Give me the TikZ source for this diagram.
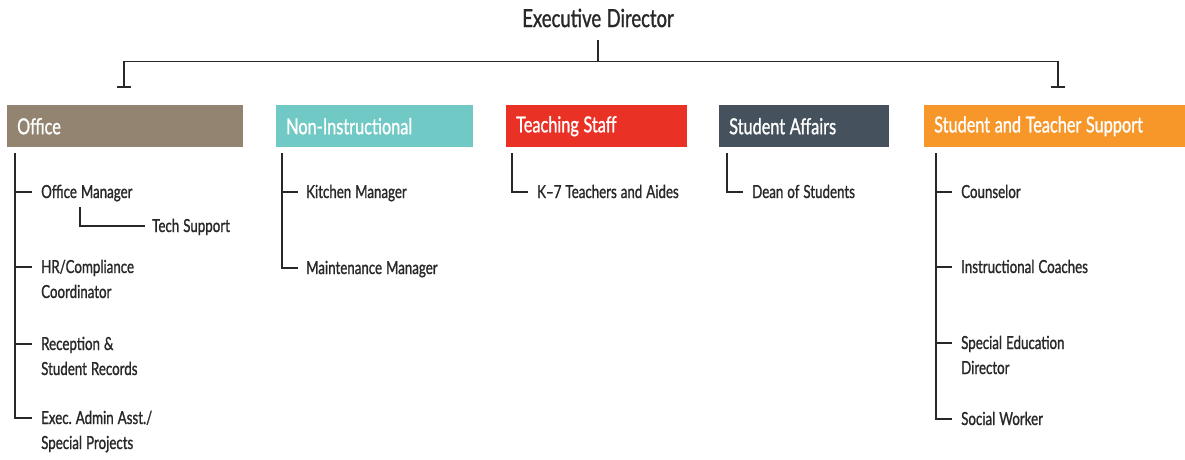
\documentclass[tikz,border=0pt]{standalone}
\usepackage{fontspec}
\usetikzlibrary{arrows.meta}
\newfontfamily\condfont[FakeStretch=0.74,FakeBold=1.1]{Lato}
\frenchspacing
\newcommand{\headfont}{\condfont\fontsize{22}{26}\selectfont}
\newcommand{\itemfont}{\condfont\fontsize{18}{25}\selectfont\spaceskip=4pt plus 1pt minus 1pt\relax}
\newcommand{\topfont}{\condfont\fontsize{25}{28}\selectfont\spaceskip=5.5pt\relax}
\definecolor{officebrown}{RGB}{146,132,112}
\definecolor{nonteal}{RGB}{112,201,196}
\definecolor{teachred}{RGB}{233,49,38}
\definecolor{affairslate}{RGB}{69,82,94}
\definecolor{supportorange}{RGB}{247,150,41}
\definecolor{ink}{RGB}{40,40,40}
\tikzset{
  conn/.style={draw=ink, line width=1.9pt},
  head/.style={fill=#1, draw=none, anchor=north west, minimum height=42pt,
    inner xsep=10pt, inner ysep=0pt, align=left, text=white, font=\headfont,
    execute at begin node={\spaceskip=4.6pt plus 1pt minus 1pt\relax}},
  item/.style={anchor=base west, inner sep=0pt, text=ink, font=\itemfont},
  top/.style={anchor=center, inner sep=0pt, text=ink, font=\topfont}
}
\newcommand{\twolines}[2]{\begin{tabular}[t]{@{}l@{}}#1\\#2\end{tabular}}
\begin{document}
\begin{tikzpicture}[x=1pt,y=-1pt]
\useasboundingbox[fill=white] (0,0) rectangle (1185,459);

% top of the chart
\node[top] (ed) at (598,18) {Executive Director};
\coordinate (edb) at (598,40);
\coordinate (jc) at (598,61.5);
\coordinate (tl) at (124,88);
\coordinate (tr) at (1058,88);
\draw[conn] (edb) -- (jc);
\draw[conn, {Bar[width=14pt,line width=1.9pt]}-{Bar[width=14pt,line width=1.9pt]}] (tl) |- (jc) -| (tr);

% department headers
\node[head=officebrown, text width=216pt] (office) at (7,105) {Office};
\node[head=nonteal, text width=177pt] (noninst) at (276,105) {Non-Instructional};
\node[head=teachred, text width=161pt] (teach) at (506,105) {Teaching Staff};
\node[head=affairslate, text width=150pt] (affairs) at (719,105) {Student Affairs};
\node[head=supportorange, text width=242pt] (support) at (924,105) {Student and Teacher Support};

% Office
\coordinate (ot) at (15,153);
\node[item] (om) at (41,198) {Office Manager};
\node[item] (ts) at (152,232) {Tech Support};
\node[item] (hr) at (41,273) {\twolines{HR/Compliance}{Coordinator}};
\node[item] (rec) at (41,350) {\twolines{Reception \&}{Student Records}};
\node[item] (exec) at (41,424) {\twolines{Exec. Admin Asst./}{Special Projects}};
\foreach \n in {om,hr,rec,exec}
  \draw[conn] (ot) |- ([xshift=-9pt,yshift=6pt]\n.base west);
\coordinate (omt) at (80,207);
\draw[conn] (omt) |- ([xshift=-7pt,yshift=6pt]ts.base west);

% Non-Instructional
\coordinate (nt) at (282,153);
\node[item] (km) at (306,198) {Kitchen Manager};
\node[item] (mm) at (306,274) {Maintenance Manager};
\foreach \n in {km,mm}
  \draw[conn] (nt) |- ([xshift=-8pt,yshift=6pt]\n.base west);

% Teaching Staff
\coordinate (tt) at (512,153);
\node[item] (k7) at (537,198) {K–7 Teachers and Aides};
\draw[conn] (tt) |- ([xshift=-9pt,yshift=6pt]k7.base west);

% Student Affairs
\coordinate (at) at (727,153);
\node[item] (dean) at (752,198) {Dean of Students};
\draw[conn] (at) |- ([xshift=-9pt,yshift=6pt]dean.base west);

% Student and Teacher Support
\coordinate (st) at (936,153);
\node[item] (coun) at (961,198) {Counselor};
\node[item] (coach) at (961,273) {Instructional Coaches};
\node[item] (sped) at (961,349) {\twolines{Special Education}{Director}};
\node[item] (sw) at (961,425) {Social Worker};
\foreach \n in {coun,coach,sped,sw}
  \draw[conn] (st) |- ([xshift=-9pt,yshift=6pt]\n.base west);
\end{tikzpicture}
\end{document}
